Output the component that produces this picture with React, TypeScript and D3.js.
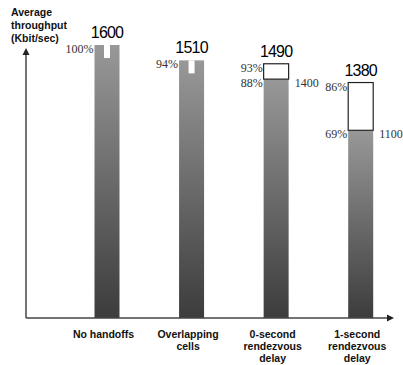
import React from "react";
import * as d3 from "d3";

// Throughput per scenario (Kbit/sec) and its share of the no-handoff case
const categories: string[][] = [
  ["No handoffs"],
  ["Overlapping", "cells"],
  ["0-second", "rendezvous", "delay"],
  ["1-second", "rendezvous", "delay"],
];
const totals: number[] = [1600, 1510, 1490, 1380];
const totalPct: string[] = ["100%", "94%", "93%", "86%"];
const baseValues: (number | null)[] = [null, null, 1400, 1100];
const basePct: (string | null)[] = [null, null, "88%", "69%"];
const axisTitle: string[] = ["Average", "throughput", "(Kbit/sec)"];

const W = 403;
const H = 365;
const axisX = 26;
const baseY = 318;
const barW = 25;

export default function App() {
  const y = d3.scaleLinear().domain([0, 1600]).range([baseY, 45]);
  const x = d3
    .scalePoint<number>()
    .domain(categories.map((_, i) => i))
    .range([107, 360.7]);

  const sans = "'Liberation Sans', Arial, sans-serif";
  const serif = "'Liberation Serif', 'Times New Roman', serif";

  return (
    <svg
      width={W}
      height={H}
      style={{ position: "absolute", left: 0, top: 0, background: "#fff" }}
    >
      <defs>
        <linearGradient id="barFill" x1="0" y1="0" x2="0" y2="1">
          <stop offset="0" stopColor="#989898" />
          <stop offset="1" stopColor="#3c3c3c" />
        </linearGradient>
      </defs>

      {/* axis title */}
      <text fontFamily={sans} fontWeight="bold" fontSize={10.5} fill="#111">
        {axisTitle.map((t, i) => (
          <tspan key={i} x={11} y={16 + i * 13}>
            {t}
          </tspan>
        ))}
      </text>

      {totals.map((total, i) => {
        const cx = x(i)!;
        const left = cx - barW / 2;
        const base = baseValues[i];
        const greyTop = base == null ? y(total) : y(base);
        return (
          <g key={i}>
            <rect
              x={left}
              y={greyTop}
              width={barW}
              height={baseY - greyTop}
              fill="url(#barFill)"
            />
            {base == null ? (
              <rect
                x={cx - 3}
                y={y(total)}
                width={6}
                height={13}
                fill="#fff"
              />
            ) : (
              <rect
                x={left}
                y={y(total)}
                width={barW}
                height={y(base) - y(total)}
                fill="#fff"
                stroke="#222"
                strokeWidth={1.2}
              />
            )}
            <text
              x={cx}
              y={y(total) - 7}
              textAnchor="middle"
              fontFamily={sans}
              fontSize={16}
              letterSpacing={-0.8}
              fill="#000"
            >
              {total}
            </text>
            <text
              x={left - 1}
              y={y(total) + 8}
              textAnchor="end"
              fontFamily={serif}
              fontSize={12}
              fill="#333"
            >
              {totalPct[i]}
            </text>
            {base != null && (
              <>
                <text
                  x={left - 1}
                  y={y(base) + 8}
                  textAnchor="end"
                  fontFamily={serif}
                  fontSize={12}
                  fill="#333"
                >
                  {basePct[i]}
                </text>
                <text
                  x={left + barW + 6}
                  y={y(base) + 8}
                  fontFamily={serif}
                  fontSize={12}
                  fill="#333"
                >
                  {base}
                </text>
              </>
            )}
            <text
              fontFamily={sans}
              fontWeight="bold"
              fontSize={10.5}
              textAnchor="middle"
              fill="#111"
            >
              {categories[i].map((t, j) => (
                <tspan key={j} x={cx - 3.5} y={338 + j * 12}>
                  {t}
                </tspan>
              ))}
            </text>
          </g>
        );
      })}

      {/* axes with arrowheads */}
      <line x1={axisX} y1={baseY} x2={axisX} y2={54} stroke="#444" strokeWidth={1.5} />
      <path d={`M${axisX},48 L${axisX - 3.5},55 L${axisX + 3.5},55 Z`} fill="#222" />
      <line x1={axisX} y1={baseY} x2={388} y2={baseY} stroke="#444" strokeWidth={1.5} />
      <path d={`M394,${baseY} L387,${baseY - 3.5} L387,${baseY + 3.5} Z`} fill="#222" />
    </svg>
  );
}
